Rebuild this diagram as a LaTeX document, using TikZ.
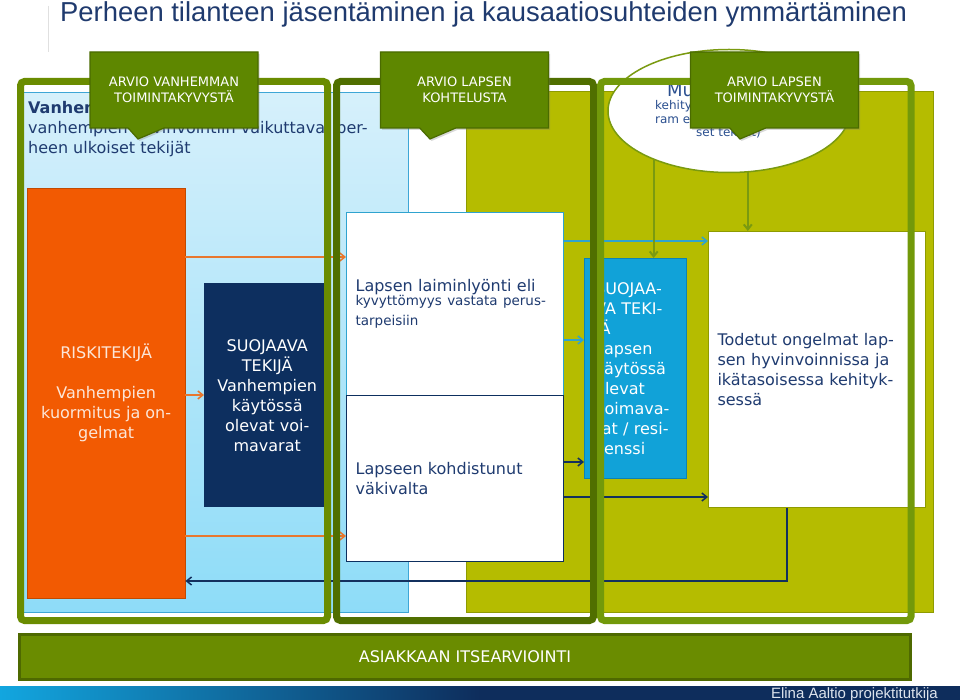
\documentclass[tikz,border=0pt]{standalone}
\usepackage{fontspec}
\setmainfont{DejaVu Sans}
\newfontfamily\titlefont{Liberation Sans}
\usetikzlibrary{shapes.geometric, shapes.callouts, arrows.meta, positioning, calc, shadows}

\definecolor{TitleNavy}{HTML}{1F3A6E}
\definecolor{TextNavy}{HTML}{1F3B70}
\definecolor{MuutBlue}{HTML}{2A4F8F}
\definecolor{FrameOlive}{HTML}{6A8C00}
\definecolor{FrameDark}{HTML}{506F00}
\definecolor{FrameLight}{HTML}{72990A}
\definecolor{CallFill}{HTML}{5E8700}
\definecolor{CallEdge}{HTML}{4A6B00}
\definecolor{BarEdge}{HTML}{4E6900}
\definecolor{PanelTop}{HTML}{D6F0FB}
\definecolor{PanelBottom}{HTML}{8EDCF8}
\definecolor{PanelEdge}{HTML}{3EA6D6}
\definecolor{Yellowish}{HTML}{B5BC00}
\definecolor{YellowEdge}{HTML}{8E9B00}
\definecolor{RiskOrange}{HTML}{F25A02}
\definecolor{RiskEdge}{HTML}{C24A00}
\definecolor{RiskText}{HTML}{FCE6D8}
\definecolor{ArrowOrange}{HTML}{E8772E}
\definecolor{ProtNavy}{HTML}{0D2F5F}
\definecolor{ChildBlue}{HTML}{11A2D8}
\definecolor{ChildEdge}{HTML}{0C82B5}
\definecolor{LineCyan}{HTML}{2FA3CF}
\definecolor{LineNavy}{HTML}{13305E}
\definecolor{ArrowGreen}{HTML}{7A9A10}
\definecolor{FootCyan}{HTML}{12A6DF}
\definecolor{FootNavy}{HTML}{0E2D5C}
\definecolor{FootText}{HTML}{DCE3EC}

\newcommand{\fsz}[2]{\fontsize{#1}{#2}\selectfont}

\tikzset{
    colframe/.style={
        draw=#1,
        line width=7pt,
        rounded corners=4pt
    },
    callbox/.style={
        rectangle callout,
        fill=CallFill,
        draw=CallEdge,
        line width=1.2pt,
        text=white,
        font=\fsz{13}{16},
        align=center,
        minimum width=168pt,
        minimum height=76pt,
        callout pointer width=36pt,
        drop shadow={opacity=0.3, shadow xshift=1.5pt, shadow yshift=-2pt}
    },
    factor/.style={
        fill=#1,
        inner sep=0pt,
        anchor=north west,
        align=center,
        font=\fsz{16}{20}
    },
    txtbox/.style={
        draw=#1,
        fill=white,
        line width=1.2pt,
        anchor=north west,
        align=left,
        inner xsep=9pt,
        text=TextNavy,
        font=\fsz{16}{20}
    },
    arr/.style={
        -{Straight Barb[length=5pt,width=8pt]},
        line width=1.5pt,
        #1
    }
}

\begin{document}
\begin{tikzpicture}[x=1pt, y=-1pt]
        \useasboundingbox (0,0) rectangle (960,700);
        \fill[white] (0,0) rectangle (960,700);

        % Title
        \draw[black!12, line width=1pt] (48,6) -- (48,52);
        \node[anchor=base west, inner sep=0pt, font=\titlefont\fsz{27.4}{30}, text=TitleNavy] (title) at (60,22)
            {Perheen tilanteen jäsentäminen ja kausaatiosuhteiden ymmärtäminen};

        % Panels
        \shade[top color=PanelTop, bottom color=PanelBottom] (22,93) rectangle (408,612);
        \draw[PanelEdge, line width=1pt] (22,93) rectangle (408,612);
        \draw[YellowEdge, fill=Yellowish, line width=1pt] (466,92) rectangle (933,612);

        % Parents
        \node[anchor=north west, align=left, inner sep=0pt, font=\fsz{16}{20}, text=TextNavy] (vanh) at (28,101)
            {\textbf{Vanhemmat}\\vanhempien hyvinvointiin vaikuttavat per-\\heen ulkoiset tekijät};
        \node[factor=RiskOrange, draw=RiskEdge, text=RiskText, minimum width=158pt, minimum height=410pt] (risk) at (27,188)
            {RISKITEKIJÄ\\[20pt]Vanhempien\\kuormitus ja on-\\gelmat};
        \node[factor=ProtNavy, text=white, minimum width=126pt, minimum height=224pt] (suoj) at (204,283)
            {SUOJAAVA\\TEKIJÄ\\Vanhempien\\käytössä\\olevat voi-\\mavarat};

        % Child treatment
        \node[txtbox=LineCyan, minimum width=217pt, minimum height=183pt, text width=199pt] (laimin) at (346,212)
            {Lapsen laiminlyönti eli\\[-2pt]{\fsz{13.5}{16}kyvyttömyys vastata perus-\\tarpeisiin}\\[8pt]};
        \node[txtbox=ProtNavy, minimum width=217pt, minimum height=166pt, text width=199pt] (vakiv) at (346,395)
            {Lapseen kohdistunut\\väkivalta};

        % Child functioning
        \node[factor=ChildBlue, draw=ChildEdge, text=white, align=left, text width=80pt, inner xsep=11pt,
              minimum height=220pt] (resil) at (584,258)
            {SUOJAA-\\VA TEKI-\\JÄ\\Lapsen\\käytössä\\olevat\\voimava-\\rat / resi-\\lienssi};
        \node[txtbox=YellowEdge, line width=1pt, minimum width=217pt, minimum height=276pt, text width=199pt] (todetut) at (708,231)
            {Todetut ongelmat lap-\\sen hyvinvoinnissa ja\\ikätasoisessa kehityk-\\sessä};
        \node[ellipse, draw=ArrowGreen, line width=1.5pt, fill=white, minimum width=242pt, minimum height=123pt,
              inner sep=0pt] (muut) at (729,111) {};
        \node[anchor=north west, align=left, inner sep=0pt, text=MuutBlue, font=\fsz{12}{13.5}] (muutteksti) at (655,83)
            {{\fsz{18}{18}\hspace*{12pt}Muut}\\kehitys\\ram en\\\hspace*{41pt}set tekijät)};

        % Connectors
        \draw[arr=ArrowOrange] (risk.east |- 0,257) -- (laimin.west |- 0,257);
        \draw[arr=ArrowOrange] (risk.east |- 0,395) -- (suoj.west |- 0,395);
        \draw[arr=ArrowOrange] (risk.east |- 0,536) -- (vakiv.west |- 0,536);
        \draw[arr=LineCyan] (laimin.east |- 0,241) -- (todetut.west |- 0,241);
        \draw[arr=LineCyan] (laimin.east |- 0,340) -- (resil.west |- 0,340);
        \draw[arr=LineNavy] (vakiv.east |- 0,462) -- (resil.west |- 0,462);
        \draw[arr=LineNavy] (vakiv.east |- 0,497) -- (todetut.west |- 0,497);
        \draw[arr=LineNavy] (todetut.south -| 787,0) |- (risk.east |- 0,581);
        \draw[arr=ArrowGreen, line width=2pt] (muut.213) -- (muut.213 |- resil.north);
        \draw[arr=ArrowGreen, line width=2pt] (muut.287) -- (muut.287 |- todetut.north);

        % Frames
        \draw[colframe=FrameOlive] (20.5,81.5) rectangle (327.5,620.5);
        \draw[colframe=FrameDark] (336.5,81.5) rectangle (593.5,620.5);
        \draw[colframe=FrameLight] (600.5,81.5) rectangle (911,620.5);

        % Assessments
        \node[callbox, callout absolute pointer={(138,139)}] (arvio1) at (174,90) {ARVIO VANHEMMAN\\TOIMINTAKYVYSTÄ};
        \node[callbox, callout absolute pointer={(430,139)}] (arvio2) at (464.5,90) {ARVIO LAPSEN\\KOHTELUSTA};
        \node[callbox, callout absolute pointer={(740,139)}] (arvio3) at (774.5,90) {ARVIO LAPSEN\\TOIMINTAKYVYSTÄ};

        % Self assessment
        \node[draw=BarEdge, fill=FrameOlive, line width=3pt, minimum width=891pt, minimum height=45pt,
              text=white, font=\fsz{16}{18}] (itse) at (465,657) {ASIAKKAAN ITSEARVIOINTI};

        % Footer
        \shade[left color=FootCyan, right color=FootNavy] (0,686) rectangle (480,700);
        \fill[FootNavy] (480,686) rectangle (960,700);
        \node[anchor=base east, inner sep=0pt, font=\titlefont\fsz{15}{16}, text=FootText] (tekija) at (938,698)
            {Elina Aaltio projektitutkija};
    \end{tikzpicture}
\end{document}
